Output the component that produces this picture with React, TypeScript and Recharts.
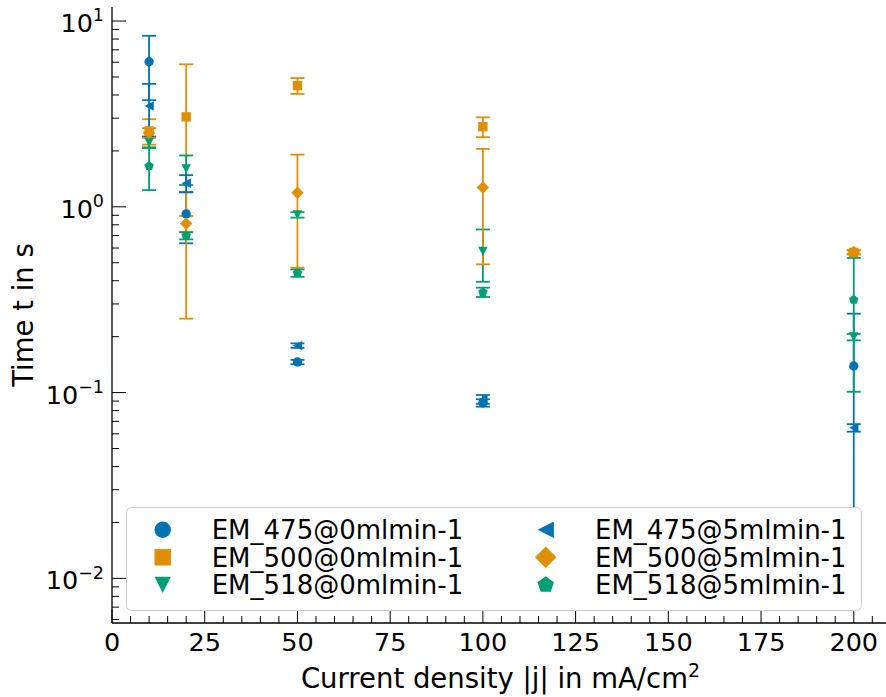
import React from 'react'
import { ComposedChart, Scatter, ErrorBar, XAxis, YAxis, Legend, Label } from 'recharts'

// current density in mA/cm2
const currentDensity = [10, 20, 50, 100, 200]

// mean time and std per membrane / flow rate
const em475Flow0 = [6.04, 0.916, 0.146, 0.088, 0.139]
const em475Flow0Err = [2.29, 0.28, 0.004, 0.004, 0.127]
const em500Flow0 = [2.56, 3.05, 4.49, 2.7, 0.568]
const em500Flow0Err = [0.4, 2.8, 0.44, 0.33, 0.015]
const em518Flow0 = [2.22, 1.6, 0.905, 0.575, 0.199]
const em518Flow0Err = [0.15, 0.29, 0.03, 0.18, 0.008]
const em475Flow5 = [3.49, 1.34, 0.179, 0.092, 0.0646]
const em475Flow5Err = [1.1, 0.14, 0.005, 0.005, 0.003]
const em500Flow5 = [2.5, 0.813, 1.19, 1.27, 0.572]
const em500Flow5Err = [0.15, 0.08, 0.72, 0.78, 0.015]
const em518Flow5 = [1.66, 0.698, 0.44, 0.347, 0.316]
const em518Flow5Err = [0.43, 0.03, 0.02, 0.02, 0.215]

const xMajorTicks = [0, 25, 50, 75, 100, 125, 150, 175, 200]
const xMinorTicks = [5, 10, 15, 20, 30, 35, 40, 45, 55, 60, 65, 70, 80, 85, 90, 95, 105, 110, 115, 120, 130, 135, 140, 145, 155, 160, 165, 170, 180, 185, 190, 195, 205]
const yMajorTicks = [0.01, 0.1, 1, 10]
const yMinorTicks = [
  0.006, 0.007, 0.008, 0.009,
  0.02, 0.03, 0.04, 0.05, 0.06, 0.07, 0.08, 0.09,
  0.2, 0.3, 0.4, 0.5, 0.6, 0.7, 0.8, 0.9,
  2, 3, 4, 5, 6, 7, 8, 9,
]

const BLUE = '#0173B2'
const ORANGE = '#DE8F05'
const GREEN = '#029E73'
const FONT = "'DejaVu Sans', sans-serif"
const TICK_FONT = 25.5
const LEGEND_FONT = 26
const LABEL_FONT = 27.5

const WIDTH = 892
const HEIGHT = 697
const PLOT_LEFT = 112
const PLOT_RIGHT = 889
const PLOT_TOP = 7
const PLOT_BOTTOM = 623
const X_DOMAIN: [number, number] = [0, 209.5]
const Y_DOMAIN: [number, number] = [0.00575, 11.9]

type MarkerKind = 'circle' | 'square' | 'triangleDown' | 'triangleLeft' | 'diamond' | 'pentagon'

const series: { name: string; color: string; marker: MarkerKind; y: number[]; err: number[] }[] = [
  { name: 'EM_475@0mlmin-1', color: BLUE, marker: 'circle', y: em475Flow0, err: em475Flow0Err },
  { name: 'EM_500@0mlmin-1', color: ORANGE, marker: 'square', y: em500Flow0, err: em500Flow0Err },
  { name: 'EM_518@0mlmin-1', color: GREEN, marker: 'triangleDown', y: em518Flow0, err: em518Flow0Err },
  { name: 'EM_475@5mlmin-1', color: BLUE, marker: 'triangleLeft', y: em475Flow5, err: em475Flow5Err },
  { name: 'EM_500@5mlmin-1', color: ORANGE, marker: 'diamond', y: em500Flow5, err: em500Flow5Err },
  { name: 'EM_518@5mlmin-1', color: GREEN, marker: 'pentagon', y: em518Flow5, err: em518Flow5Err },
]

function drawMarker(kind: MarkerKind, cx: number, cy: number, r: number, color: string) {
  if (cx == null || cy == null || isNaN(cx) || isNaN(cy)) return <g />
  switch (kind) {
    case 'circle':
      return <circle cx={cx} cy={cy} r={r} fill={color} />
    case 'square':
      return <rect x={cx - r} y={cy - r} width={2 * r} height={2 * r} fill={color} />
    case 'triangleDown':
      return <polygon points={`${cx - r},${cy - r} ${cx + r},${cy - r} ${cx},${cy + r}`} fill={color} />
    case 'triangleLeft':
      return <polygon points={`${cx + r},${cy - r} ${cx + r},${cy + r} ${cx - r},${cy}`} fill={color} />
    case 'diamond': {
      const d = r * 1.32
      return <polygon points={`${cx},${cy - d} ${cx + d},${cy} ${cx},${cy + d} ${cx - d},${cy}`} fill={color} />
    }
    case 'pentagon': {
      const p = r * 1.05
      const pts = [0, 1, 2, 3, 4]
        .map((k) => {
          const a = ((-90 + 72 * k) * Math.PI) / 180
          return `${cx + p * Math.cos(a)},${cy + p * Math.sin(a)}`
        })
        .join(' ')
      return <polygon points={pts} fill={color} />
    }
  }
}

const BottomTick = (props: any) => {
  const { x, payload } = props
  const major = xMajorTicks.includes(payload.value)
  const len = major ? 14 : 7
  return (
    <g>
      <line x1={x} x2={x} y1={PLOT_BOTTOM} y2={PLOT_BOTTOM - len} stroke="#000" strokeWidth={1} />
      {major && (
        <text x={x} y={PLOT_BOTTOM + 28} textAnchor="middle" fontSize={TICK_FONT} fontFamily={FONT} fill="#000">
          {payload.value}
        </text>
      )}
    </g>
  )
}

const TopTick = (props: any) => {
  const { x, payload } = props
  const len = xMajorTicks.includes(payload.value) ? 14 : 7
  return <line x1={x} x2={x} y1={PLOT_TOP} y2={PLOT_TOP + len} stroke="#000" strokeWidth={1} />
}

const LeftTick = (props: any) => {
  const { y, payload } = props
  const major = yMajorTicks.includes(payload.value)
  const len = major ? 14 : 7
  const exp = Math.round(Math.log10(payload.value))
  return (
    <g>
      <line x1={PLOT_LEFT} x2={PLOT_LEFT + len} y1={y} y2={y} stroke="#000" strokeWidth={1} />
      {major && (
        <text x={104} y={y + 11} textAnchor="end" fontSize={TICK_FONT} fontFamily={FONT} fill="#000">
          10
          <tspan dy={-10.8} fontSize={17.5}>
            {exp < 0 ? `\u2212${-exp}` : `${exp}`}
          </tspan>
        </text>
      )}
    </g>
  )
}

const RightTick = (props: any) => {
  const { y, payload } = props
  const len = yMajorTicks.includes(payload.value) ? 14 : 7
  return <line x1={PLOT_RIGHT} x2={PLOT_RIGHT - len} y1={y} y2={y} stroke="#000" strokeWidth={1} />
}

const LegendBox = () => (
  <svg width={738} height={104} style={{ display: 'block' }}>
    <rect x={0.5} y={0.5} width={735} height={103} rx={5} fill="#fff" stroke="#cccccc" strokeWidth={1} />
    {series.map((s, i) => {
      const col = Math.floor(i / 3)
      const row = i % 3
      const my = 22.7 + row * 27.6
      const mx = col === 0 ? 36.7 : 419.7
      const tx = col === 0 ? 85.7 : 469
      return (
        <g key={s.name}>
          {drawMarker(s.marker, mx, my, 8.2, s.color)}
          <text x={tx} y={my + 9.4} fontSize={LEGEND_FONT} fontFamily={FONT} fill="#000">
            {s.name}
          </text>
        </g>
      )
    })}
  </svg>
)

export default function App() {
  const xTicks = [...xMajorTicks, ...xMinorTicks].sort((a, b) => a - b)
  const yTicks = [...yMajorTicks, ...yMinorTicks].sort((a, b) => a - b)
  const midY = (PLOT_TOP + PLOT_BOTTOM) / 2
  return (
    <div style={{ position: 'absolute', left: 0, top: 0, width: 886, height: 697, overflow: 'hidden', background: '#fff' }}>
      <ComposedChart width={WIDTH} height={HEIGHT} margin={{ top: PLOT_TOP, right: WIDTH - PLOT_RIGHT, bottom: 0, left: 0 }}>
        <XAxis
          dataKey="x"
          type="number"
          domain={X_DOMAIN}
          allowDataOverflow
          ticks={xTicks}
          interval={0}
          height={HEIGHT - PLOT_BOTTOM}
          tickLine={false}
          axisLine={{ stroke: '#000', strokeWidth: 1.3 }}
          tick={BottomTick}
        >
          <Label
            content={() => (
              <text x={(PLOT_LEFT + PLOT_RIGHT) / 2} y={688} textAnchor="middle" fontSize={LABEL_FONT} fontFamily={FONT} fill="#000">
                Current density |j| in mA/cm
                <tspan dy={-11} fontSize={19}>2</tspan>
              </text>
            )}
          />
        </XAxis>
        <XAxis
          xAxisId="top"
          orientation="top"
          type="number"
          domain={X_DOMAIN}
          allowDataOverflow
          ticks={xTicks}
          interval={0}
          height={0}
          tickLine={false}
          axisLine={{ stroke: '#000', strokeWidth: 1.3 }}
          tick={TopTick}
        />
        <YAxis
          type="number"
          scale="log"
          domain={Y_DOMAIN}
          allowDataOverflow
          ticks={yTicks}
          interval={0}
          width={PLOT_LEFT}
          tickLine={false}
          axisLine={{ stroke: '#000', strokeWidth: 1.3 }}
          tick={LeftTick}
        >
          <Label
            content={() => (
              <text
                x={23}
                y={midY}
                transform={`rotate(-90 23 ${midY})`}
                textAnchor="middle"
                dominantBaseline="central"
                fontSize={LABEL_FONT}
                fontFamily={FONT}
                fill="#000"
              >
                Time t in s
              </text>
            )}
          />
        </YAxis>
        <YAxis
          yAxisId="right"
          orientation="right"
          type="number"
          scale="log"
          domain={Y_DOMAIN}
          allowDataOverflow
          ticks={yTicks}
          interval={0}
          width={0}
          tickLine={false}
          axisLine={{ stroke: '#000', strokeWidth: 1.3 }}
          tick={RightTick}
        />
        {series.map((s) => (
          <Scatter
            key={s.name}
            name={s.name}
            data={currentDensity.map((x, i) => ({ x, y: s.y[i], err: s.err[i] }))}
            dataKey="y"
            fill={s.color}
            isAnimationActive={false}
            shape={(p: any) => drawMarker(s.marker, p.cx, p.cy, 4.7, s.color)}
          >
            <ErrorBar dataKey="err" direction="y" width={7} strokeWidth={1.8} stroke={s.color} isAnimationActive={false} />
          </Scatter>
        ))}
        <Legend
          layout="horizontal"
          verticalAlign="middle"
          align="center"
          wrapperStyle={{ left: 126, top: 507, right: 'auto', bottom: 'auto', width: 738, height: 104 }}
          content={LegendBox}
        />
      </ComposedChart>
    </div>
  )
}
